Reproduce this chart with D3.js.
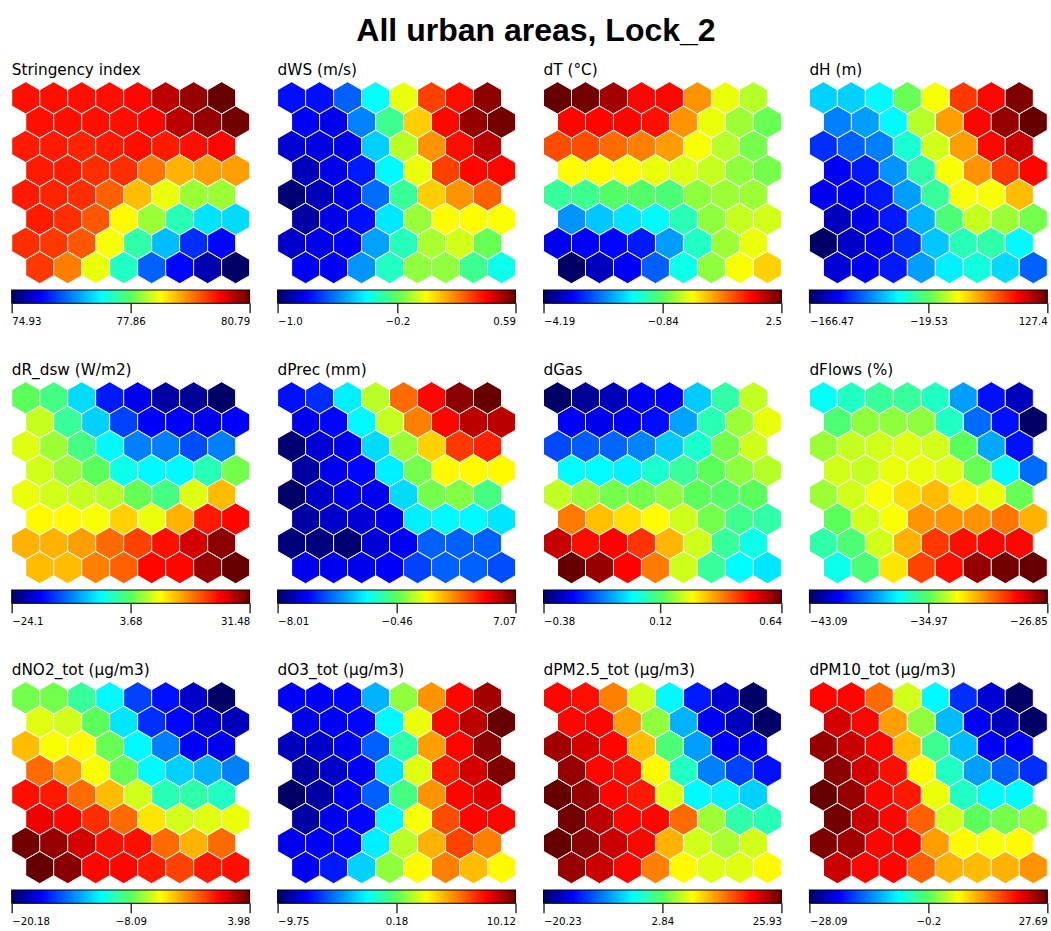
<!DOCTYPE html>
<html>
<head>
<meta charset="utf-8">
<script src="https://cdn.jsdelivr.net/npm/d3@7/dist/d3.min.js"></script>
<style>
  html, body { margin: 0; padding: 0; background: #ffffff; }
  svg { display: block; }
</style>
</head>
<body>
<svg id="chart" width="1051" height="931"></svg>
<script>
// ---------------- DATA ----------------
const chartTitle = "All urban areas, Lock_2";

const panelTitles = ["Stringency index", "dWS (m/s)", "dT (°C)", "dH (m)",
  "dR_dsw (W/m2)", "dPrec (mm)", "dGas", "dFlows (%)",
  "dNO2_tot (µg/m3)", "dO3_tot (µg/m3)", "dPM2.5_tot (µg/m3)", "dPM10_tot (µg/m3)"];

const rangeMin = [74.93, -1.0, -4.19, -166.47, -24.1, -8.01, -0.38, -43.09, -20.18, -9.75, -20.23, -28.09];
const rangeMax = [80.79, 0.59, 2.5, 127.4, 31.48, 7.07, 0.64, -26.85, 3.98, 10.12, 25.93, 27.69];

const tickLabels = [
  ["74.93", "77.86", "80.79"],
  ["−1.0", "−0.2", "0.59"],
  ["−4.19", "−0.84", "2.5"],
  ["−166.47", "−19.53", "127.4"],
  ["−24.1", "3.68", "31.48"],
  ["−8.01", "−0.46", "7.07"],
  ["−0.38", "0.12", "0.64"],
  ["−43.09", "−34.97", "−26.85"],
  ["−20.18", "−8.09", "3.98"],
  ["−9.75", "0.18", "10.12"],
  ["−20.23", "2.84", "25.93"],
  ["−28.09", "−0.2", "27.69"]
];

// SOM codebook values, 8 rows (top to bottom) x 8 columns (left to right)
const stringencyIndex = [
  79.97, 79.97, 79.97, 79.97, 80.03, 80.38, 80.56, 80.79,
  79.97, 79.97, 79.97, 79.97, 80.03, 80.38, 80.56, 80.73,
  79.91, 79.91, 79.85, 79.91, 79.97, 79.91, 79.97, 80.03,
  79.91, 79.91, 79.79, 79.79, 79.38, 79.03, 79.15, 79.15,
  79.91, 79.85, 79.79, 79.50, 78.97, 78.50, 78.15, 78.15,
  79.91, 79.79, 79.56, 78.62, 78.15, 77.45, 76.98, 76.92,
  79.79, 79.74, 79.56, 78.56, 77.51, 76.75, 75.93, 75.69,
  79.74, 79.33, 78.50, 77.39, 76.22, 75.69, 75.28, 74.93
];
const dWS = [
  -0.78, -0.78, -0.65, -0.40, -0.03, 0.29, 0.37, 0.54,
  -0.81, -0.83, -0.60, -0.27, 0.07, 0.38, 0.53, 0.57,
  -0.86, -0.84, -0.83, -0.48, -0.09, 0.16, 0.37, 0.48,
  -0.89, -0.83, -0.76, -0.41, -0.03, 0.29, 0.38, 0.38,
  -0.98, -0.89, -0.83, -0.63, -0.28, 0.07, 0.16, 0.24,
  -0.92, -0.83, -0.78, -0.44, -0.13, 0.00, 0.00, -0.01,
  -0.87, -0.83, -0.81, -0.55, -0.32, -0.11, -0.06, -0.19,
  -0.81, -0.81, -0.57, -0.33, -0.14, -0.14, -0.27, -0.38
];
const dT = [
  2.50, 2.43, 2.17, 1.63, 1.63, 0.69, -0.11, -0.38,
  1.63, 1.63, 1.63, 1.56, 0.69, -0.11, -0.51, -0.78,
  1.16, 1.16, 0.96, 0.83, 0.63, -0.04, -0.38, -0.71,
  0.02, 0.02, 0.02, -0.11, -0.18, -0.31, -0.58, -0.71,
  -1.18, -1.11, -0.91, -0.91, -0.98, -0.58, -0.51, -0.51,
  -2.38, -2.05, -1.85, -1.71, -1.31, -0.58, -0.31, -0.24,
  -3.45, -3.39, -3.32, -3.19, -2.32, -1.38, -0.51, -0.11,
  -4.19, -3.72, -3.39, -2.72, -1.58, -0.58, -0.04, 0.29
];
const dH = [
  -69.5, -69.5, -57.7, -16.6, 15.7, 74.5, 89.2, 121.5,
  -93.0, -84.2, -57.7, 1.0, 45.1, 89.2, 115.7, 127.4,
  -116.5, -101.8, -93.0, -46.0, 6.9, 45.1, 89.2, 103.9,
  -131.2, -122.4, -87.1, -37.2, 15.7, 48.1, 74.5, 89.2,
  -134.1, -131.2, -122.4, -84.2, -34.2, 15.7, 15.7, 36.3,
  -145.9, -134.1, -122.4, -78.3, -25.4, 4.0, -4.8, -13.7,
  -166.5, -143.0, -131.2, -116.5, -72.4, -40.1, -37.2, -57.7,
  -140.0, -131.2, -122.4, -84.2, -60.7, -48.9, -66.6, -101.8
];
const dR_dsw = [
  3.69, 2.02, -5.20, -15.76, -17.99, -21.32, -21.88, -24.10,
  8.14, 0.91, -5.76, -13.54, -17.43, -17.43, -17.99, -17.43,
  9.25, 6.47, 2.02, -3.54, -10.20, -10.20, -12.98, -10.20,
  8.69, 6.47, 3.69, -2.42, -3.54, -3.54, -0.20, 4.80,
  9.80, 8.69, 8.14, 7.58, 4.25, 2.02, 9.25, 14.25,
  10.92, 10.92, 10.36, 13.14, 9.80, 14.81, 23.14, 24.25,
  14.81, 14.81, 15.92, 18.70, 20.92, 23.70, 26.48, 29.81,
  14.25, 14.25, 17.59, 19.25, 24.25, 24.25, 29.26, 31.48
];
const dPrec = [
  -5.90, -5.45, -2.58, 0.59, 3.60, 5.11, 6.62, 7.07,
  -6.35, -6.05, -2.43, 0.74, 3.30, 5.11, 6.01, 6.01,
  -7.86, -6.65, -6.35, -2.88, 0.28, 2.09, 4.36, 4.66,
  -7.26, -6.35, -6.05, -2.58, -0.17, 1.49, 1.49, 1.49,
  -8.01, -6.80, -6.35, -6.35, -2.88, -0.17, -0.02, -0.92,
  -7.26, -6.80, -6.65, -6.35, -2.58, -2.43, -2.43, -2.73,
  -7.71, -7.71, -7.86, -6.65, -6.20, -4.69, -4.69, -4.69,
  -6.35, -6.35, -6.35, -6.20, -5.14, -4.69, -4.69, -4.99
];
const dGas = [
  -0.38, -0.34, -0.31, -0.26, -0.25, -0.05, 0.07, 0.21,
  -0.26, -0.27, -0.26, -0.24, -0.09, 0.06, 0.18, 0.24,
  -0.18, -0.16, -0.15, -0.12, -0.05, 0.04, 0.15, 0.22,
  0.00, 0.00, -0.01, 0.04, 0.08, 0.13, 0.17, 0.20,
  0.21, 0.18, 0.15, 0.15, 0.17, 0.13, 0.12, 0.13,
  0.39, 0.32, 0.29, 0.26, 0.22, 0.15, 0.09, 0.07,
  0.56, 0.50, 0.51, 0.46, 0.33, 0.22, 0.08, 0.02,
  0.64, 0.60, 0.51, 0.39, 0.22, 0.08, 0.00, -0.02
];
const dFlows = [
  -36.92, -36.27, -35.78, -35.78, -36.27, -38.54, -40.82, -41.95,
  -35.29, -34.32, -34.32, -34.32, -36.27, -39.35, -40.82, -43.09,
  -34.16, -33.67, -33.51, -33.35, -33.51, -34.97, -38.38, -40.82,
  -33.51, -33.67, -33.18, -33.18, -33.35, -34.81, -37.08, -39.35,
  -34.16, -33.51, -33.02, -32.37, -31.88, -32.70, -33.18, -34.81,
  -34.97, -33.51, -33.02, -31.23, -31.23, -31.23, -30.75, -31.72,
  -35.94, -35.29, -33.51, -31.72, -29.77, -29.12, -28.96, -28.96,
  -36.76, -35.29, -32.53, -29.94, -29.12, -27.50, -27.01, -26.85
];
const dNO2_tot = [
  -7.62, -7.62, -9.31, -11.24, -15.59, -16.80, -18.25, -20.18,
  -5.68, -5.93, -8.10, -11.72, -16.07, -17.04, -18.01, -18.49,
  -3.51, -5.20, -4.96, -7.86, -11.24, -14.14, -17.28, -17.52,
  -1.58, -2.78, -5.20, -7.86, -11.24, -12.21, -12.93, -14.14,
  0.60, 0.36, -1.58, -3.51, -5.93, -9.79, -9.55, -10.03,
  1.32, 0.84, -0.13, -1.58, -4.48, -5.93, -5.68, -5.44,
  3.74, 3.01, 1.81, 0.60, 0.60, -1.58, -3.27, -1.58,
  3.98, 3.26, 0.84, 0.84, 0.36, -0.61, 0.36, 0.60
];
const dO3_tot = [
  -7.37, -7.37, -7.17, -3.79, 0.98, 4.76, 7.54, 9.13,
  -7.56, -7.37, -7.17, -2.40, 2.37, 7.54, 8.73, 10.12,
  -8.36, -8.16, -7.56, -5.38, -1.01, 4.56, 7.54, 9.52,
  -8.76, -8.16, -7.37, -2.80, 2.17, 7.14, 8.33, 9.72,
  -9.75, -8.76, -7.37, -5.38, -0.41, 4.76, 7.54, 8.13,
  -8.76, -7.56, -7.17, -2.40, 2.57, 6.15, 7.54, 7.54,
  -7.56, -7.37, -7.17, -2.60, 1.58, 4.16, 6.34, 5.15,
  -7.37, -6.77, -3.19, 0.98, 2.77, 5.15, 3.96, 2.77
];
const dPM25_tot = [
  19.93, 19.47, 14.39, 7.00, -3.15, -13.31, -16.08, -20.23,
  19.93, 19.93, 13.01, 4.70, -6.38, -14.69, -17.00, -20.23,
  23.62, 21.78, 19.93, 11.62, 1.93, -7.31, -14.69, -14.69,
  24.08, 19.93, 19.47, 8.85, -0.84, -8.69, -11.46, -13.77,
  25.93, 24.08, 19.93, 19.01, 7.47, -3.15, -3.61, -5.00,
  25.47, 22.70, 19.93, 19.93, 15.31, 5.16, 0.08, -0.38,
  25.93, 24.55, 22.24, 19.93, 12.08, 7.00, 5.62, 7.00,
  24.08, 22.24, 19.93, 14.39, 8.85, 7.47, 7.47, 8.85
];
const dPM10_tot = [
  20.44, 20.44, 14.86, 4.82, -7.45, -18.61, -23.07, -28.09,
  22.67, 20.44, 12.07, 2.03, -10.80, -21.40, -24.19, -28.09,
  25.46, 23.23, 20.44, 10.40, -2.43, -10.80, -21.40, -21.40,
  26.02, 22.67, 19.88, 7.05, -4.66, -12.47, -15.82, -18.61,
  27.69, 25.46, 20.44, 19.32, 5.94, -4.66, -7.45, -7.45,
  27.13, 23.23, 20.44, 15.42, 4.82, -0.20, 0.92, 2.03,
  26.57, 24.90, 20.44, 20.44, 12.07, 7.05, 6.49, 7.05,
  23.23, 20.44, 20.44, 15.42, 10.96, 10.40, 10.96, 12.63
];

const panelValues = [stringencyIndex, dWS, dT, dH, dR_dsw, dPrec, dGas, dFlows,
  dNO2_tot, dO3_tot, dPM25_tot, dPM10_tot];

// ---------------- LAYOUT ----------------
const W = 1051, H = 931;
const NCOL = 8, NROW = 8;
const hexR = 16.16;
const hexW = Math.sqrt(3) * hexR;     // column spacing
const rowStep = 1.5 * hexR;           // row spacing
const panelLeft0 = 11.7, panelDX = 265.9;
const panelTop0 = 81.7, panelDY = 300;
const gridW = (NCOL + 0.5) * hexW;
const SANS = '"DejaVu Sans", "Liberation Sans", Arial, sans-serif';

// jet-like palette
const jetStops = [0, 0.125, 0.25, 0.375, 0.5, 0.625, 0.75, 0.875, 1];
const jetColors = ["#000066", "#0000ff", "#007fff", "#00ffff", "#5aff5a", "#ffff00", "#ff7f00", "#ff0000", "#660000"];
const jet = d3.scaleLinear().domain(jetStops).range(jetColors).interpolate(d3.interpolateRgb).clamp(true);

const svg = d3.select("#chart");
svg.append("rect").attr("width", W).attr("height", H).attr("fill", "#ffffff");

svg.append("text")
  .attr("x", 536).attr("y", 41)
  .attr("text-anchor", "middle")
  .style("font-family", '"Liberation Sans", Arial, Helvetica, sans-serif')
  .style("font-size", "32px").style("font-weight", "bold")
  .attr("fill", "#000")
  .text(chartTitle);

const defs = svg.append("defs");
const grad = defs.append("linearGradient").attr("id", "jetGrad")
  .attr("x1", "0%").attr("x2", "100%").attr("y1", "0%").attr("y2", "0%");
jetStops.forEach((s, i) => grad.append("stop").attr("offset", (s * 100) + "%").attr("stop-color", jetColors[i]));

const hexPath = (() => {
  const p = d3.path();
  for (let k = 0; k < 6; k++) {
    const a = (Math.PI / 180) * (-90 + 60 * k);
    const x = hexR * Math.cos(a), y = hexR * Math.sin(a);
    if (k === 0) p.moveTo(x, y); else p.lineTo(x, y);
  }
  p.closePath();
  return p.toString();
})();

const parseLabel = s => Number(s.replace("−", "-"));

panelValues.forEach((vals, pi) => {
  const pc = pi % 4, pr = Math.floor(pi / 4);
  const px = panelLeft0 + pc * panelDX;
  const py = panelTop0 + pr * panelDY;
  const g = svg.append("g").attr("transform", `translate(${px},${py})`);

  g.append("text")
    .attr("x", 0).attr("y", -6.5)
    .style("font-family", SANS).style("font-size", "15.3px")
    .attr("fill", "#000")
    .text(panelTitles[pi]);

  const xs = d3.scaleLinear().domain([0, NCOL + 0.5]).range([0, gridW]);
  const ys = d3.scaleLinear().domain([0, 1]).range([hexR, hexR + rowStep]);
  const norm = d3.scaleLinear().domain([rangeMin[pi], rangeMax[pi]]).range([0, 1]);

  const cells = vals.map((v, i) => ({ v, row: Math.floor(i / NCOL), col: i % NCOL }));
  g.selectAll("path.hex").data(cells).enter().append("path")
    .attr("class", "hex")
    .attr("d", hexPath)
    .attr("transform", d => `translate(${xs(d.col + 0.5 + (d.row % 2) * 0.5)},${ys(d.row)})`)
    .attr("fill", d => jet(norm(d.v)))
    .attr("stroke", "#ffffff")
    .attr("stroke-width", 1);

  // colour bar
  const cbY = 208.3, cbH = 13.3;
  g.append("rect")
    .attr("x", 0).attr("y", cbY)
    .attr("width", gridW).attr("height", cbH)
    .attr("fill", "url(#jetGrad)")
    .attr("stroke", "#000").attr("stroke-width", 1);

  const cbScale = d3.scaleLinear().domain([rangeMin[pi], rangeMax[pi]]).range([0, gridW]);
  const labels = tickLabels[pi];
  const axis = d3.axisBottom(cbScale)
    .tickValues(labels.map(parseLabel))
    .tickSizeInner(10).tickSizeOuter(0)
    .tickFormat((d, i) => labels[i]);
  const ax = g.append("g").attr("transform", `translate(0,${cbY + cbH})`).call(axis);
  ax.select(".domain").remove();
  ax.selectAll(".tick line").attr("stroke", "#333").attr("stroke-width", 1.5);
  ax.selectAll(".tick text")
    .style("font-family", SANS)
    .style("font-size", "10.2px")
    .attr("fill", "#000")
    .attr("dy", null)
    .attr("y", 22)
    .attr("text-anchor", (d, i) => i === 0 ? "start" : (i === labels.length - 1 ? "end" : "middle"));
});
</script>
</body>
</html>
